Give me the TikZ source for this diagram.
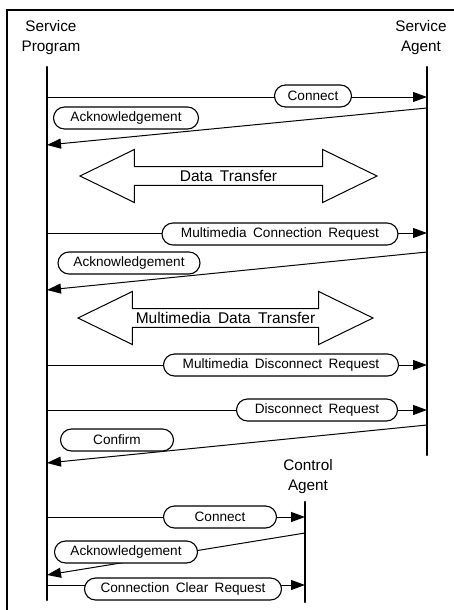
\documentclass[tikz,border=0pt]{standalone}
\usepackage{fontspec}
\usepackage{tkz-euclide}
\usetikzlibrary{arrows.meta,shapes.misc,shapes.arrows}
\setmainfont{Liberation Sans}
\newfontfamily\lblfont[WordSpace=1.7]{Liberation Sans}

\begin{document}
\begin{tikzpicture}[x=1pt,y=-1pt,
    life/.style={line width=2.3pt},
    msg/.style={line width=1pt,-{Triangle[length=14pt,width=10pt]}},
    tag/.style={rounded rectangle,draw,fill=white,line width=1.1pt,
        minimum height=22pt,inner sep=0pt,font=\lblfont\fontsize{13.6}{15}\selectfont},
    role/.style={align=center,font=\lblfont\fontsize{15.3}{20}\selectfont},
    xfer/.style={double arrow,draw,line width=1pt,minimum height=297pt,
        minimum width=53pt,double arrow head extend=11.5pt,double arrow tip angle=52,
        inner sep=0pt,font=\lblfont\fontsize{15.5}{18}\selectfont}]
                    \useasboundingbox (0,0) rectangle (454,610);
                    \draw[line width=1.8pt] (7,612) -- (7,10) -- (456,10);
                    \tkzDefPoints{47/67/A,47/600/B,427/67/C,427/455/D,305/502/E,305/602/F}
                    \tkzDrawSegments[life](A,B C,D E,F)
                    \node[role] (sp) at (51,38) {Service\\Program};
                    \node[role] (sa) at (421,38) {Service\\Agent};
                    \node[role] (ca) at (308,477) {Control\\Agent};
                    \tkzDefPoints{47/97/a1,427/97/b1,427/108/b2,47/145/a2,47/233/a3,427/233/b3,
                        427/252/b4,47/290/a4,47/365/a5,427/365/b5,47/410/a6,427/410/b6,
                        427/425/b7,47/463/a7,47/517/a8,305/517/e8,305/533/e9,47/575/a9,
                        47/585/a10,305/585/e10}
                    \tkzDrawSegments[msg](a1,b1 b2,a2 a3,b3 b4,a4 a5,b5 a6,b6 b7,a7 a8,e8 e9,a9 a10,e10)
                    \node[tag,minimum width=77pt] (m1) at (313,96) {Connect};
                    \node[tag,minimum width=145pt] (m2) at (126,118) {Acknowledgement};
                    \node[xfer] (t1) at (228.5,176) {Data Transfer};
                    \node[tag,minimum width=236pt] (m3) at (280,234) {Multimedia Connection Request};
                    \node[tag,minimum width=142pt] (m4) at (129,263) {Acknowledgement};
                    \node[xfer,minimum height=295pt] (t2) at (225.5,318) {Multimedia Data Transfer};
                    \node[tag,minimum width=235pt] (m5) at (281,365) {Multimedia Disconnect Request};
                    \node[tag,minimum width=161pt] (m6) at (317,410) {Disconnect Request};
                    \node[tag,minimum width=113pt] (m7) at (117,440) {Confirm};
                    \node[tag,minimum width=113pt] (m8) at (220,517) {Connect};
                    \node[tag,minimum width=143pt] (m9) at (126,552) {Acknowledgement};
                    \node[tag,minimum width=197pt] (m10) at (183,589) {Connection Clear Request};
                \end{tikzpicture}
\end{document}
